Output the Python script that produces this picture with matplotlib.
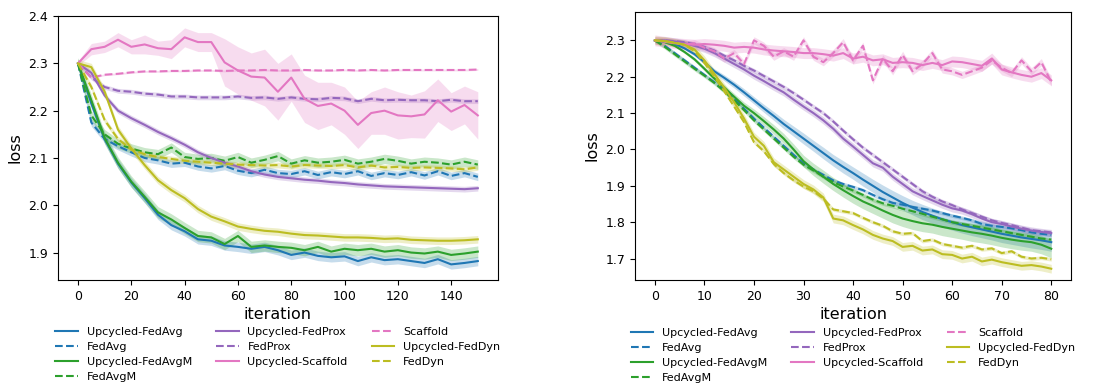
import numpy as np
import matplotlib
matplotlib.use("Agg")
import matplotlib.pyplot as plt

# ---- left panel: iterations 0..150 (every 5) ----
left_iter = np.arange(0, 151, 5)

l_up_fedavg = [2.300, 2.215, 2.140, 2.088, 2.048, 2.015, 1.980, 1.958, 1.945, 1.928, 1.925, 1.915, 1.912, 1.908, 1.912, 1.905,
               1.895, 1.900, 1.893, 1.890, 1.892, 1.882, 1.890, 1.884, 1.886, 1.882, 1.878, 1.886, 1.875, 1.878, 1.882]
l_fedavg = [2.300, 2.175, 2.140, 2.125, 2.112, 2.100, 2.095, 2.088, 2.090, 2.082, 2.078, 2.083, 2.073, 2.068, 2.075, 2.068,
            2.066, 2.072, 2.064, 2.070, 2.066, 2.072, 2.062, 2.068, 2.064, 2.070, 2.063, 2.072, 2.062, 2.068, 2.060]
l_up_fedavgm = [2.300, 2.222, 2.142, 2.090, 2.050, 2.018, 1.985, 1.970, 1.952, 1.935, 1.932, 1.918, 1.935, 1.912, 1.915, 1.912,
                1.910, 1.905, 1.912, 1.902, 1.908, 1.905, 1.908, 1.902, 1.905, 1.900, 1.898, 1.902, 1.895, 1.898, 1.902]
l_fedavgm = [2.300, 2.190, 2.150, 2.130, 2.120, 2.112, 2.108, 2.122, 2.102, 2.098, 2.100, 2.094, 2.102, 2.090, 2.096, 2.104,
             2.088, 2.095, 2.090, 2.092, 2.096, 2.088, 2.092, 2.098, 2.094, 2.088, 2.092, 2.090, 2.086, 2.092, 2.086]
l_up_fedprox = [2.300, 2.280, 2.232, 2.200, 2.184, 2.170, 2.155, 2.142, 2.128, 2.112, 2.100, 2.090, 2.082, 2.072, 2.065, 2.060,
                2.057, 2.054, 2.052, 2.049, 2.047, 2.044, 2.042, 2.040, 2.039, 2.038, 2.037, 2.036, 2.035, 2.034, 2.036]
l_fedprox = [2.300, 2.270, 2.250, 2.242, 2.240, 2.236, 2.234, 2.230, 2.230, 2.228, 2.228, 2.228, 2.230, 2.227, 2.228, 2.225,
             2.228, 2.225, 2.224, 2.227, 2.226, 2.220, 2.225, 2.222, 2.223, 2.222, 2.222, 2.220, 2.223, 2.220, 2.220]
l_up_scaffold = [2.300, 2.330, 2.335, 2.350, 2.335, 2.340, 2.332, 2.330, 2.355, 2.345, 2.345, 2.302, 2.285, 2.272, 2.270, 2.240,
                 2.270, 2.225, 2.210, 2.215, 2.200, 2.170, 2.195, 2.200, 2.190, 2.188, 2.192, 2.222, 2.198, 2.212, 2.190]
l_scaffold = [2.300, 2.270, 2.276, 2.278, 2.281, 2.283, 2.283, 2.284, 2.284, 2.285, 2.285, 2.284, 2.285, 2.285, 2.286, 2.285,
              2.285, 2.286, 2.285, 2.285, 2.286, 2.285, 2.286, 2.285, 2.286, 2.286, 2.286, 2.286, 2.286, 2.286, 2.287]
l_up_feddyn = [2.300, 2.292, 2.240, 2.160, 2.120, 2.085, 2.053, 2.032, 2.015, 1.992, 1.976, 1.966, 1.955, 1.950, 1.946, 1.944,
               1.940, 1.937, 1.936, 1.934, 1.932, 1.932, 1.931, 1.929, 1.930, 1.927, 1.926, 1.925, 1.925, 1.926, 1.928]
l_feddyn = [2.300, 2.250, 2.180, 2.140, 2.118, 2.108, 2.102, 2.098, 2.094, 2.092, 2.090, 2.088, 2.086, 2.085, 2.084, 2.085,
            2.082, 2.085, 2.084, 2.083, 2.085, 2.080, 2.084, 2.080, 2.081, 2.079, 2.080, 2.079, 2.078, 2.076, 2.080]

# spread (half width of the shaded band)
l_up_scaffold_sd = [0.005, 0.012, 0.012, 0.015, 0.015, 0.02, 0.015, 0.02, 0.02, 0.02, 0.02, 0.05, 0.05, 0.05, 0.06, 0.06,
                    0.05, 0.05, 0.05, 0.045, 0.05, 0.05, 0.045, 0.05, 0.05, 0.045, 0.05, 0.045, 0.04, 0.04, 0.05]
l_sd = [0.010, 0.008, 0.012, 0.010, 0.006, 0.005, None, 0.002, 0.008, 0.006]

# ---- right panel: iterations 0..80 (every 2) ----
right_iter = np.arange(0, 81, 2)

r_up_fedavg = [2.300, 2.297, 2.290, 2.278, 2.262, 2.240, 2.215, 2.197, 2.178, 2.157, 2.135, 2.113, 2.092, 2.070, 2.050, 2.030,
               2.010, 1.990, 1.970, 1.952, 1.935, 1.917, 1.900, 1.883, 1.868, 1.853, 1.840, 1.828, 1.818, 1.808, 1.800,
               1.792, 1.786, 1.780, 1.774, 1.768, 1.763, 1.758, 1.754, 1.750, 1.745]
r_fedavg = [2.300, 2.285, 2.265, 2.245, 2.225, 2.205, 2.185, 2.163, 2.140, 2.112, 2.085, 2.060, 2.035, 2.010, 1.985, 1.962,
            1.945, 1.930, 1.915, 1.905, 1.897, 1.888, 1.875, 1.863, 1.853, 1.848, 1.842, 1.837, 1.832, 1.825, 1.818,
            1.812, 1.805, 1.795, 1.790, 1.787, 1.783, 1.778, 1.772, 1.768, 1.765]
r_up_fedavgm = [2.300, 2.295, 2.285, 2.268, 2.248, 2.222, 2.195, 2.170, 2.145, 2.120, 2.100, 2.078, 2.055, 2.030, 2.000, 1.968,
                1.945, 1.925, 1.905, 1.888, 1.872, 1.857, 1.845, 1.832, 1.820, 1.810, 1.803, 1.797, 1.793, 1.787, 1.782,
                1.777, 1.772, 1.768, 1.763, 1.757, 1.752, 1.748, 1.745, 1.738, 1.727]
r_fedavgm = [2.300, 2.282, 2.262, 2.242, 2.222, 2.203, 2.183, 2.160, 2.135, 2.108, 2.080, 2.055, 2.030, 2.005, 1.980, 1.958,
             1.942, 1.925, 1.910, 1.898, 1.887, 1.875, 1.862, 1.852, 1.845, 1.837, 1.830, 1.823, 1.815, 1.808, 1.800,
             1.795, 1.790, 1.785, 1.780, 1.775, 1.770, 1.765, 1.760, 1.755, 1.752]
r_up_fedprox = [2.300, 2.300, 2.297, 2.292, 2.285, 2.277, 2.265, 2.250, 2.235, 2.220, 2.203, 2.188, 2.172, 2.157, 2.137, 2.118,
                2.100, 2.080, 2.057, 2.030, 2.008, 1.985, 1.962, 1.950, 1.925, 1.905, 1.885, 1.872, 1.860, 1.848, 1.838,
                1.832, 1.822, 1.810, 1.800, 1.795, 1.788, 1.782, 1.777, 1.773, 1.770]
r_fedprox = [2.300, 2.300, 2.298, 2.295, 2.290, 2.282, 2.272, 2.258, 2.245, 2.230, 2.217, 2.202, 2.187, 2.172, 2.155, 2.137,
             2.118, 2.100, 2.077, 2.052, 2.028, 2.005, 1.985, 1.965, 1.945, 1.925, 1.905, 1.885, 1.870, 1.857, 1.847,
             1.835, 1.825, 1.815, 1.805, 1.798, 1.792, 1.785, 1.778, 1.775, 1.772]
r_up_scaffold = [2.300, 2.296, 2.292, 2.290, 2.288, 2.290, 2.288, 2.285, 2.280, 2.282, 2.280, 2.275, 2.272, 2.270, 2.268, 2.265,
                 2.265, 2.262, 2.258, 2.265, 2.250, 2.255, 2.245, 2.248, 2.238, 2.240, 2.238, 2.232, 2.238, 2.232, 2.242,
                 2.240, 2.235, 2.230, 2.250, 2.220, 2.212, 2.205, 2.200, 2.210, 2.190]
r_scaffold = [2.300, 2.297, 2.293, 2.288, 2.292, 2.280, 2.270, 2.250, 2.265, 2.235, 2.300, 2.285, 2.255, 2.270, 2.255, 2.300,
              2.255, 2.240, 2.265, 2.295, 2.245, 2.285, 2.190, 2.250, 2.215, 2.260, 2.215, 2.235, 2.265, 2.220, 2.215,
              2.205, 2.215, 2.225, 2.245, 2.225, 2.210, 2.245, 2.215, 2.240, 2.185]
r_up_feddyn = [2.300, 2.298, 2.293, 2.288, 2.275, 2.245, 2.208, 2.170, 2.130, 2.085, 2.035, 2.010, 1.965, 1.945, 1.925, 1.905,
               1.890, 1.868, 1.810, 1.805, 1.792, 1.780, 1.765, 1.755, 1.748, 1.732, 1.735, 1.722, 1.725, 1.712, 1.710,
               1.700, 1.705, 1.692, 1.697, 1.690, 1.685, 1.680, 1.682, 1.678, 1.672]
r_feddyn = [2.300, 2.298, 2.294, 2.288, 2.270, 2.238, 2.200, 2.160, 2.118, 2.075, 2.020, 1.995, 1.960, 1.935, 1.915, 1.898,
            1.885, 1.865, 1.835, 1.830, 1.825, 1.812, 1.800, 1.790, 1.775, 1.768, 1.770, 1.748, 1.752, 1.740, 1.735,
            1.730, 1.735, 1.725, 1.728, 1.715, 1.720, 1.705, 1.700, 1.702, 1.698]

r_up_fedavg_sd = [0.0, 0.002, 0.003, 0.004, 0.005, 0.006, 0.007, 0.008, 0.009, 0.010, 0.010, 0.011, 0.012, 0.013, 0.014,
                  0.015, 0.015, 0.016, 0.016, 0.017, 0.017, 0.018, 0.018, 0.019, 0.019, 0.020, 0.020, 0.021, 0.021, 0.022,
                  0.022, 0.022, 0.023, 0.023, 0.023, 0.024, 0.024, 0.024, 0.025, 0.025, 0.025]
r_up_fedavgm_sd = [0.0, 0.002, 0.003, 0.004, 0.005, 0.006, 0.007, 0.008, 0.009, 0.010, 0.011, 0.012, 0.013, 0.014, 0.015,
                   0.016, 0.017, 0.018, 0.018, 0.019, 0.020, 0.020, 0.021, 0.021, 0.022, 0.022, 0.023, 0.023, 0.023, 0.024,
                   0.024, 0.024, 0.025, 0.025, 0.025, 0.025, 0.025, 0.025, 0.025, 0.025, 0.025]
r_sd = [None, 0.005, None, 0.006, 0.010, 0.006, 0.015, 0.010, 0.012, 0.005]

labels = ['Upcycled-FedAvg', 'FedAvg', 'Upcycled-FedAvgM', 'FedAvgM', 'Upcycled-FedProx', 'FedProx',
          'Upcycled-Scaffold', 'Scaffold', 'Upcycled-FedDyn', 'FedDyn']
colors = ['#1f77b4', '#1f77b4', '#2ca02c', '#2ca02c', '#9467bd', '#9467bd', '#e377c2', '#e377c2', '#bcbd22', '#bcbd22']
styles = ['-', '--', '-', '--', '-', '--', '-', '--', '-', '--']

left_series = [l_up_fedavg, l_fedavg, l_up_fedavgm, l_fedavgm, l_up_fedprox, l_fedprox,
               l_up_scaffold, l_scaffold, l_up_feddyn, l_feddyn]
right_series = [r_up_fedavg, r_fedavg, r_up_fedavgm, r_fedavgm, r_up_fedprox, r_fedprox,
                r_up_scaffold, r_scaffold, r_up_feddyn, r_feddyn]
l_sd[6] = l_up_scaffold_sd
r_sd[0] = r_up_fedavg_sd
r_sd[2] = r_up_fedavgm_sd

fig = plt.figure(figsize=(11.05, 3.87), dpi=100)
ax1 = fig.add_axes([0.0525, 0.2765, 0.398, 0.682])
ax2 = fig.add_axes([0.5747, 0.2765, 0.3946, 0.6925])


def draw(ax, x, series, sds):
    for y, sd, c, ls, lab in zip(series, sds, colors, styles, labels):
        y = np.array(y)
        sd = np.array(sd)
        ax.fill_between(x, y - sd, y + sd, color=c, alpha=0.25, linewidth=0)
        ax.plot(x, y, color=c, linestyle=ls, linewidth=1.5, label=lab)
    ax.set_xlabel('iteration', fontsize=11.5, labelpad=3)
    ax.set_ylabel('loss', fontsize=11.5)
    ax.tick_params(labelsize=9)
    ax.legend(loc='upper center', bbox_to_anchor=(0.5, -0.14), ncol=3, frameon=False,
              fontsize=8, columnspacing=2.2, labelspacing=0.45)


draw(ax1, left_iter, left_series, l_sd)
ax1.set_xlim(-7.5, 157.5)
ax1.set_ylim(1.842, 2.4)
ax1.set_xticks(range(0, 141, 20))
ax1.set_yticks([1.9, 2.0, 2.1, 2.2, 2.3, 2.4])

draw(ax2, right_iter, right_series, r_sd)
ax2.set_xlim(-4, 84)
ax2.set_ylim(1.641, 2.378)
ax2.set_xticks(range(0, 81, 10))
ax2.set_yticks([1.7, 1.8, 1.9, 2.0, 2.1, 2.2, 2.3])

fig.savefig('out.png', dpi=100)
